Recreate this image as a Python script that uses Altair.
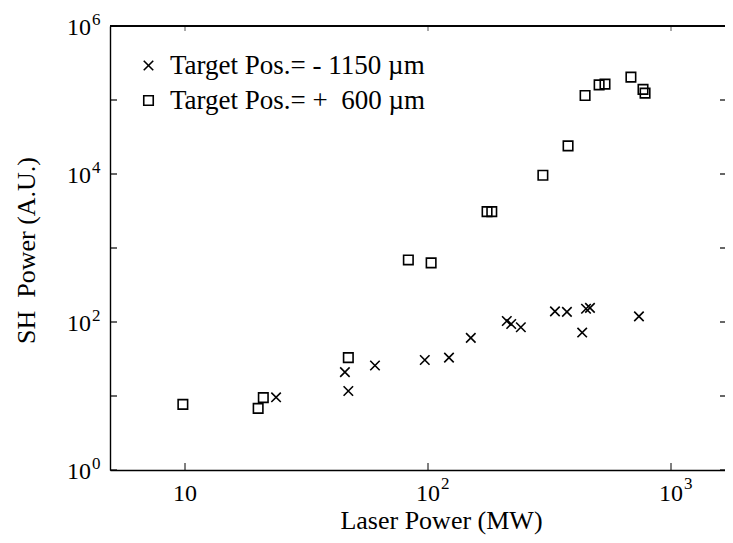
import altair as alt
import pandas as pd

# ---- data ----
SERIES = ["Target Pos.=\u00a0-\u00a01150\u00a0\u00b5m", "Target Pos.=\u00a0+\u00a0\u00a0600\u00a0\u00b5m"]

cross_power = [23.7, 45.5, 47, 60.5, 97, 122, 150, 211, 220, 241, 333, 373, 447, 464, 431, 738]
cross_sh = [9.6, 21, 11.7, 25.8, 30.7, 33, 61, 103, 94, 85, 139, 137, 151, 155, 72, 119]

square_power = [9.8, 20, 21, 47, 83, 103, 175, 183, 297, 377, 443, 506, 535, 684, 767, 782]
square_sh = [7.7, 6.8, 9.5, 33, 690, 630, 3100, 3100, 9600, 24000, 115000, 160000, 164000,
             204000, 139000, 124000]

X_TICKS = [10, 100, 1000]
X_BASE = ["10", "10", "10"]
X_EXP = ["", "2", "3"]
Y_TICKS = [1, 10, 100, 1e3, 1e4, 1e5, 1e6]
Y_LABEL_VALUES = [1, 100, 1e4, 1e6]
Y_BASE = ["10", "10", "10", "10"]
Y_EXP = ["0", "2", "4", "6"]

FONT = "Liberation Serif"
W, H = 615, 444
CROSS = "M-1,-1L1,1M-1,1L1,-1"

df = pd.DataFrame({
    "power": cross_power + square_power,
    "sh": cross_sh + square_sh,
    "series": [SERIES[0]] * len(cross_power) + [SERIES[1]] * len(square_power),
})
xt = pd.DataFrame({"power": X_TICKS, "base": X_BASE, "exp": X_EXP})
yt = pd.DataFrame({"sh": Y_TICKS})
yl = pd.DataFrame({"sh": Y_LABEL_VALUES, "base": Y_BASE, "exp": Y_EXP})

xs = alt.Scale(type="log", domain=[4.913, 1668], nice=False)
ys = alt.Scale(type="log", domain=[1, 1e6], nice=False)

xaxis = alt.Axis(
    title="Laser Power (MW)", values=X_TICKS, labels=False,
    grid=False, ticks=False, domainColor="black", domainWidth=1.4,
    titleFont=FONT, titleFontSize=26, titleFontWeight="normal", titleColor="black",
    titleX=331, titleY=50, titleBaseline="middle")
yaxis = alt.Axis(
    title="SH\u00a0 Power (A.U.)", values=Y_LABEL_VALUES, labels=False,
    grid=False, ticks=False, domainColor="black", domainWidth=1.4,
    titleFont=FONT, titleFontSize=26, titleFontWeight="normal", titleColor="black",
    titleX=-84, titleY=224, titleBaseline="middle")

points = alt.Chart(df).mark_point(filled=False, color="black", strokeWidth=1.6, opacity=1, size=90).encode(
    x=alt.X("power:Q", scale=xs, axis=xaxis),
    y=alt.Y("sh:Q", scale=ys, axis=yaxis),
    shape=alt.Shape("series:N", scale=alt.Scale(domain=SERIES, range=[CROSS, "square"]),
                    legend=alt.Legend(
                        title=None, orient="none", legendX=25, legendY=26, padding=0,
                        labelFont=FONT, labelFontSize=27, labelColor="black", labelOffset=8,
                        symbolSize=90, symbolStrokeWidth=1.6, symbolStrokeColor="black",
                        symbolFillColor="white", rowPadding=7, labelLimit=400)),
)

bottom_ticks = alt.Chart(xt).mark_rule(color="black", strokeWidth=1).encode(
    x=alt.X("power:Q", scale=xs, axis=xaxis), y=alt.value(H), y2=alt.value(H - 7))
top_ticks = alt.Chart(xt).mark_rule(color="#555", strokeWidth=1).encode(
    x=alt.X("power:Q", scale=xs, axis=xaxis), y=alt.value(0), y2=alt.value(5))
left_ticks = alt.Chart(yt).mark_rule(color="black", strokeWidth=1.2).encode(
    y=alt.Y("sh:Q", scale=ys, axis=yaxis), x=alt.value(0), x2=alt.value(7))
right_ticks = alt.Chart(yt).mark_rule(color="black", strokeWidth=1.2).encode(
    y=alt.Y("sh:Q", scale=ys, axis=yaxis), x=alt.value(W - 5), x2=alt.value(W))
top_line = alt.Chart(xt).mark_rule(color="black", strokeWidth=1.4).encode(
    y=alt.value(0), x=alt.value(0), x2=alt.value(W))

# tick labels: "10" with a raised exponent
x_base = alt.Chart(xt).mark_text(font=FONT, fontSize=24, color="black", align="center",
                                 baseline="middle").encode(
    x=alt.X("power:Q", scale=xs, axis=xaxis), y=alt.value(H + 24), text="base:N")
x_exp = alt.Chart(xt).mark_text(font=FONT, fontSize=17, color="black", align="left",
                                baseline="middle", dx=13, dy=-10).encode(
    x=alt.X("power:Q", scale=xs, axis=xaxis), y=alt.value(H + 24), text="exp:N")
y_base = alt.Chart(yl).mark_text(font=FONT, fontSize=24, color="black", align="right",
                                 baseline="middle", dy=2).encode(
    y=alt.Y("sh:Q", scale=ys, axis=yaxis), x=alt.value(-19), text="base:N")
y_exp = alt.Chart(yl).mark_text(font=FONT, fontSize=17, color="black", align="left",
                                baseline="middle", dy=-6).encode(
    y=alt.Y("sh:Q", scale=ys, axis=yaxis), x=alt.value(-18), text="exp:N")

chart = alt.layer(points, bottom_ticks, top_ticks, left_ticks, right_ticks, top_line,
                  x_base, x_exp, y_base, y_exp).properties(
    width=W, height=H,
    autosize=alt.AutoSizeParams(type="none"),
    padding={"left": 102, "top": 18, "right": 0, "bottom": 65},
    background="white",
).configure_view(stroke=None)

chart.save("out.html", embed_options={"renderer": "svg", "actions": False})
